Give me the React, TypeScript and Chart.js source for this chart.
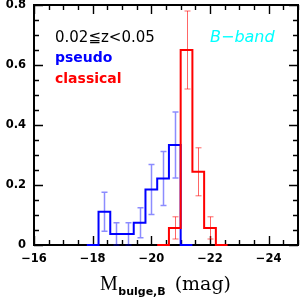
import { useEffect, useRef } from 'react';
import { Chart, registerables } from 'chart.js';
Chart.register(...registerables);

// Histogram bin edges (M_bulge,B, mag) and fractions
const pseudoBinEdges = [-17.8, -18.2, -18.6, -19.0, -19.4, -19.8, -20.2, -20.6, -21.0, -21.4];
const pseudoFrac = [0, 0.111, 0.037, 0.037, 0.074, 0.185, 0.222, 0.333, 0];
const pseudoErr = [0, 0.065, 0.037, 0.037, 0.05, 0.083, 0.09, 0.11, 0];

const classicalBinEdges = [-20.2, -20.6, -21.0, -21.4, -21.8, -22.2, -22.6];
const classicalFrac = [0, 0.057, 0.65, 0.244, 0.057, 0];
const classicalErr = [0, 0.037, 0.13, 0.08, 0.037, 0];

const xTickValues = [-16, -18, -20, -22, -24];
const yTickValues = [0, 0.2, 0.4, 0.6, 0.8];
const xMinorStep = 0.5;
const yMinorStep = 0.05;

const labelRange = '0.02\u2266z<0.05';
const labelPseudo = 'pseudo';
const labelClassical = 'classical';
const labelBand = 'B\u2212band';

const stepPoints = (edges: number[], vals: number[]) => {
  const pts = vals.map((v, i) => ({ x: edges[i], y: v }));
  pts.push({ x: edges[edges.length - 1], y: 0 });
  return pts;
};

const errorBars = (edges: number[], vals: number[], errs: number[]) =>
  vals
    .map((v, i) => ({ x: (edges[i] + edges[i + 1]) / 2, y: v, e: errs[i] }))
    .filter((d) => d.y > 0);

const decor = {
  id: 'decor',
  beforeDatasetsDraw(chart: any) {
    const { ctx, chartArea: a, scales } = chart;
    const xs = scales.x;
    const ys = scales.y;
    ctx.save();
    // ticks
    ctx.strokeStyle = '#000';
    ctx.lineWidth = 1.4;
    ctx.beginPath();
    for (let v = -16; v >= -25.001; v -= xMinorStep) {
      const px = Math.round(xs.getPixelForValue(v)) + 0.5;
      const major = Math.abs(v % 2) < 1e-6;
      const len = major ? 9 : 5;
      ctx.moveTo(px, a.bottom);
      ctx.lineTo(px, a.bottom - len);
      ctx.moveTo(px, a.top);
      ctx.lineTo(px, a.top + len);
    }
    for (let v = 0; v <= 0.8001; v += yMinorStep) {
      const py = Math.round(ys.getPixelForValue(v)) + 0.5;
      const major = Math.abs(v / 0.2 - Math.round(v / 0.2)) < 1e-6;
      const len = major ? 9 : 5;
      ctx.moveTo(a.left, py);
      ctx.lineTo(a.left + len, py);
      ctx.moveTo(a.right, py);
      ctx.lineTo(a.right - len, py);
    }
    ctx.stroke();
    // frame
    ctx.strokeStyle = '#000';
    ctx.lineWidth = 2;
    ctx.strokeRect(a.left, a.top, a.right - a.left, a.bottom - a.top);

    // error bars
    const drawErr = (list: any[], color: string, lw: number) => {
      ctx.strokeStyle = color;
      ctx.lineWidth = lw;
      ctx.beginPath();
      list.forEach((d) => {
        const px = Math.round(xs.getPixelForValue(d.x)) + 0.5;
        const top = ys.getPixelForValue(d.y + d.e);
        const bot = ys.getPixelForValue(Math.max(0, d.y - d.e));
        ctx.moveTo(px, top);
        ctx.lineTo(px, bot);
        ctx.moveTo(px - 3, top);
        ctx.lineTo(px + 3, top);
        ctx.moveTo(px - 3, bot);
        ctx.lineTo(px + 3, bot);
      });
      ctx.stroke();
    };
    drawErr(errorBars(pseudoBinEdges, pseudoFrac, pseudoErr), 'rgba(0,0,255,0.45)', 1.5);
    drawErr(errorBars(classicalBinEdges, classicalFrac, classicalErr), 'rgba(255,0,0,0.6)', 1);
    ctx.restore();
  },
  afterDraw(chart: any) {
    const { ctx } = chart;
    ctx.save();
    ctx.textBaseline = 'alphabetic';
    ctx.textAlign = 'left';
    ctx.fillStyle = '#000';
    ctx.font = '15px "DejaVu Sans"';
    ctx.fillText(labelRange, 55, 42);
    ctx.font = 'bold 14px "DejaVu Sans"';
    ctx.fillStyle = '#0000ff';
    ctx.fillText(labelPseudo, 55, 62);
    ctx.fillStyle = '#ff0000';
    ctx.fillText(labelClassical, 55, 83);
    ctx.fillStyle = '#00ffff';
    ctx.font = 'italic 16px "DejaVu Sans"';
    ctx.fillText(labelBand, 210, 42);

    // x-axis title: M_{bulge,B} (mag)
    ctx.fillStyle = '#000';
    let x = 100;
    ctx.font = '20px "Liberation Serif"';
    ctx.fillText('M', x, 290);
    x += ctx.measureText('M').width + 0.5;
    ctx.font = 'bold 11px "DejaVu Sans"';
    ctx.fillText('bulge,B', x, 295);
    x += ctx.measureText('bulge,B').width + 9;
    ctx.font = '19px "DejaVu Serif"';
    ctx.fillText('(mag)', x, 290);
    ctx.restore();
  },
};

export default function App() {
  const ref = useRef<HTMLCanvasElement>(null);
  useEffect(() => {
    const tickFont = { family: '"DejaVu Sans"', size: 11.5, weight: 'bold' as const };
    const chart = new Chart(ref.current!, {
      type: 'line',
      data: {
        datasets: [
          {
            label: 'classical',
            data: stepPoints(classicalBinEdges, classicalFrac),
            borderColor: '#ff0000',
            borderWidth: 2,
            pointRadius: 0,
            stepped: 'before',
            fill: false,
            clip: false as any,
          },
          {
            label: 'pseudo',
            data: stepPoints(pseudoBinEdges, pseudoFrac),
            borderColor: '#0000ff',
            borderWidth: 2,
            pointRadius: 0,
            stepped: 'before',
            fill: false,
            clip: false as any,
          },
        ],
      },
      options: {
        animation: false,
        responsive: false,
        devicePixelRatio: 1,
        layout: { padding: { left: 0, top: 5, right: 2, bottom: 0 } },
        plugins: { legend: { display: false }, tooltip: { enabled: false } },
        scales: {
          x: {
            type: 'linear',
            min: -25,
            max: -16,
            reverse: true,
            grid: { display: false, drawTicks: false },
            border: { display: false },
            afterBuildTicks: (s: any) => {
              s.ticks = xTickValues.map((v) => ({ value: v }));
            },
            afterFit: (s: any) => {
              s.height = 59;
              s.paddingLeft = 0;
              s.paddingRight = 0;
              s.paddingTop = 0;
              s.paddingBottom = 0;
            },
            ticks: {
              font: tickFont,
              color: '#000',
              padding: 7,
              maxRotation: 0,
              autoSkip: false,
              callback: (v: any) => (v === 0 ? '0' : '\u2212' + Math.abs(Number(v))),
            },
          },
          y: {
            type: 'linear',
            min: 0,
            max: 0.8,
            grid: { display: false, drawTicks: false },
            border: { display: false },
            afterBuildTicks: (s: any) => {
              s.ticks = yTickValues.map((v) => ({ value: v }));
            },
            afterFit: (s: any) => {
              s.width = 34;
              s.paddingLeft = 0;
              s.paddingRight = 0;
              s.paddingTop = 0;
              s.paddingBottom = 0;
            },
            ticks: {
              font: tickFont,
              color: '#000',
              padding: 8,
              autoSkip: false,
              callback: (v: any) => String(Math.round(Number(v) * 10) / 10),
            },
          },
        },
      },
      plugins: [decor],
    });
    return () => chart.destroy();
  }, []);
  return (
    <div style={{ position: 'fixed', left: 0, top: 0, width: 300, height: 304, background: '#fff' }}>
      <canvas ref={ref} width={300} height={304} style={{ display: 'block', width: 300, height: 304 }} />
    </div>
  );
}
